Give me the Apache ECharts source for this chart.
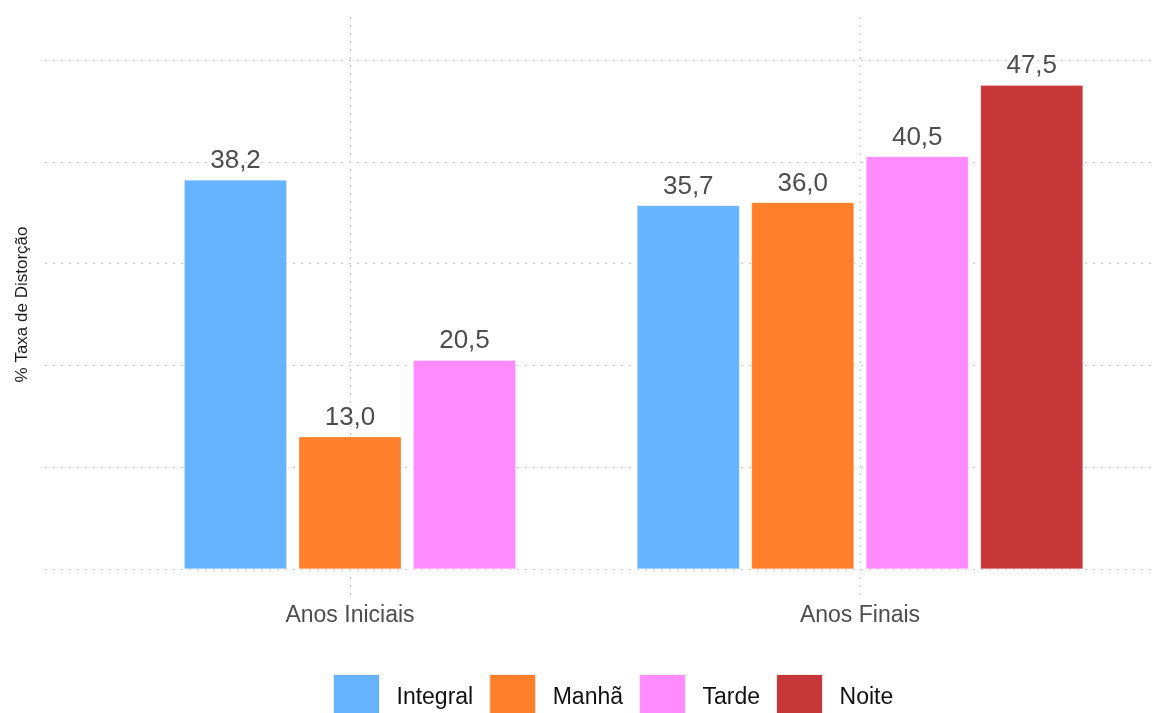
<!DOCTYPE html>
<html>
<head>
<meta charset="utf-8">
<script src="https://cdn.jsdelivr.net/npm/echarts@6/dist/echarts.min.js"></script>
<style>html,body{margin:0;padding:0;background:#fff;}#c{width:1157px;height:713px;}</style>
</head>
<body>
<div id="c"></div>
<script>
const categories = ['Anos Iniciais', 'Anos Finais'];
const turnos = ['Integral', 'Manhã', 'Tarde', 'Noite'];
const colors = ['#66B3FF', '#FF7F2A', '#FF8CFF', '#C83737'];
const iniciais = [38.2, 13.0, 20.5, null];
const finais = [35.7, 36.0, 40.5, 47.5];
const gridTicks = [0, 10, 20, 30, 40, 50];

const FONT = 'Liberation Sans, Arial, sans-serif';
const fmt = p => p.value.toFixed(1).replace('.', ',');
const gridLine = { color: '#c8c8c8', type: [2, 6], width: 1 };

function barSeries(name, color, axisIndex, data) {
  return {
    type: 'bar', name: name, xAxisIndex: axisIndex, yAxisIndex: 0,
    data: data, barWidth: 102.5, barGap: '11.7%',
    itemStyle: { color: color, borderColor: 'rgba(255,255,255,0.5)', borderWidth: 0.5 },
    label: { show: true, position: 'top', distance: 6, formatter: fmt,
             fontFamily: FONT, fontSize: 26, color: '#4d4d4d' },
    z: 5
  };
}

const series = [];
turnos.forEach((t, i) => {
  if (iniciais[i] != null) series.push(barSeries(t, colors[i], 0, [iniciais[i], '-']));
});
turnos.forEach((t, i) => {
  series.push(barSeries(t, colors[i], 1, ['-', finais[i]]));
});
// vertical grid lines at category centres
series.push({
  type: 'line', name: '_vgrid', xAxisIndex: 0, yAxisIndex: 0,
  data: ['-', '-'], symbol: 'none', silent: true, z: 1,
  markLine: {
    silent: true, symbol: ['none', 'none'], label: { show: false },
    lineStyle: gridLine, animation: false,
    data: categories.map(c => ({ xAxis: c }))
  }
});

const chart = echarts.init(document.getElementById('c'), null, { renderer: 'canvas' });
chart.setOption({
  backgroundColor: '#fff',
  animation: false,
  grid: [
    { left: 95, right: 42, top: 14, bottom: 118 },
    { left: 45, right: 0, top: 60, bottom: 144 }
  ],
  legend: {
    data: turnos, top: 674, left: 333, padding: 0,
    itemWidth: 46, itemHeight: 46, itemGap: 16,
    icon: 'rect',
    itemStyle: { borderColor: '#ececec', borderWidth: 1 },
    textStyle: { fontFamily: FONT, fontSize: 23, color: '#111', padding: [0, 0, 0, 12] }
  },
  xAxis: [
    { type: 'category', gridIndex: 0, data: categories,
      axisLine: { show: false }, axisTick: { show: false }, splitLine: { show: false },
      axisLabel: { fontFamily: FONT, fontSize: 23, color: '#4d4d4d', margin: 9 } },
    { type: 'category', gridIndex: 0, data: categories, show: false },
    { type: 'value', gridIndex: 1, min: 0, max: 1, show: false }
  ],
  yAxis: [
    { type: 'value', gridIndex: 0, min: -2.55, max: 54.5,
      axisLine: { show: false }, axisTick: { show: false }, axisLabel: { show: false },
      splitLine: { show: false },
      name: '% Taxa de Distorção', nameLocation: 'middle', nameGap: 64,
      nameTextStyle: { fontFamily: FONT, fontSize: 17, color: '#1a1a1a' } },
    { type: 'value', gridIndex: 1, min: gridTicks[0], max: gridTicks[gridTicks.length - 1], interval: 10,
      axisLine: { show: false }, axisTick: { show: false }, axisLabel: { show: false },
      splitLine: { show: true, lineStyle: gridLine } }
  ],
  series: series
});
</script>
</body>
</html>
